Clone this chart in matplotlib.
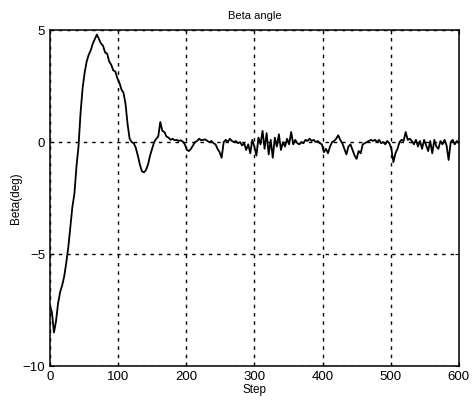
import numpy as np
import matplotlib
matplotlib.use("Agg")
import matplotlib.pyplot as plt

title = "Beta angle"
xlabel = "Step"
ylabel = "Beta(deg)"
xticks = [0, 100, 200, 300, 400, 500, 600]
yticks = [-10, -5, 0, 5]

beta = [
    -7.3, -7.6, -8.5, -8.0, -7.2, -6.7, -6.4, -6.0, -5.4, -4.7,   # 0-27
    -3.8, -2.9, -2.3, -1.1, -0.2, 1.3, 2.4, 3.1, 3.6, 3.9,         # 30-57
    4.1, 4.4, 4.6, 4.8, 4.6, 4.4, 4.3, 4.0, 3.95, 3.6,             # 60-87
    3.45, 3.2, 3.15, 2.85, 2.65, 2.35, 2.2, 1.7, 0.8, 0.15,        # 90-117
    0.0, -0.05, -0.25, -0.6, -1.0, -1.3, -1.35, -1.25, -1.0, -0.6, # 120-147
    -0.3, 0.0, 0.15, 0.25, 0.9, 0.5, 0.45, 0.25, 0.2, 0.1,         # 150-177
    0.15, 0.08, 0.1, 0.05, 0.08, 0.02, -0.1, -0.35, -0.4, -0.3,    # 180-207
    -0.15, 0.0, 0.05, 0.15, 0.08, 0.1, 0.12, 0.05, 0.0, 0.05,      # 210-237
    -0.05, -0.1, -0.3, -0.45, -0.7, 0.0, 0.1, 0.0, 0.15, 0.05,     # 240-267
    0.0, 0.05, -0.05, 0.0, -0.15, -0.05, -0.35, -0.1, -0.5, 0.1,   # 270-297
    -0.2, -0.6, 0.2, -0.1, 0.5, -0.3, 0.4, -0.55, 0.1, -0.7,       # 300-327
    0.2, -0.2, 0.35, -0.35, 0.0, -0.2, 0.15, -0.1, 0.45, -0.1,     # 330-357
    0.1, -0.05, -0.1, 0.0, -0.05, 0.1, 0.05, 0.15, 0.05, 0.1,      # 360-387
    0.0, 0.05, -0.05, -0.1, -0.45, -0.3, -0.5, -0.2, 0.0, 0.05,    # 390-417
    0.15, 0.3, 0.1, -0.05, -0.3, -0.55, -0.2, -0.1, -0.35, -0.6,   # 420-447
    -0.75, -0.4, -0.5, -0.1, -0.05, 0.0, 0.05, 0.1, 0.05, 0.1,     # 450-477
    0.0, 0.1, -0.05, 0.0, -0.1, 0.05, -0.05, -0.3, -0.9, -0.5,     # 480-507
    -0.3, 0.0, 0.1, 0.05, 0.45, 0.1, 0.15, 0.05, -0.1, 0.1,        # 510-537
    -0.2, 0.05, -0.3, 0.1, -0.15, -0.4, 0.05, -0.5, 0.1, -0.2,     # 540-567
    -0.3, 0.05, -0.1, 0.1, -0.15, -0.8, 0.0, 0.1, -0.1, 0.05,      # 570-597
    -0.05,                                                         # 600
]
steps = np.arange(0, 3 * len(beta), 3)

plt.rcParams['font.family'] = ['Liberation Sans', 'DejaVu Sans']

fig = plt.figure(figsize=(4.75, 4.01), dpi=100)
ax = fig.add_axes([0.105, 0.087, 0.861, 0.838])
ax.plot(steps, beta, color='black', linewidth=1.3)

ax.set_xlim(0, 600)
ax.set_ylim(-10, 5)
ax.set_xticks(xticks)
ax.set_yticks(yticks)
ax.tick_params(direction='in', length=3, labelsize=9.5, top=True, right=True, width=0.8)
ax.grid(True, color='black', linestyle=(0, (2.5, 3.5)), linewidth=1.0)
for s in ax.spines.values():
    s.set_linewidth(1.1)

ax.set_title(title, fontsize=8, pad=8)
ax.set_xlabel(xlabel, fontsize=8.5, labelpad=1)
ax.set_ylabel(ylabel, fontsize=8.5, labelpad=0)

fig.savefig("out.png", dpi=100)
